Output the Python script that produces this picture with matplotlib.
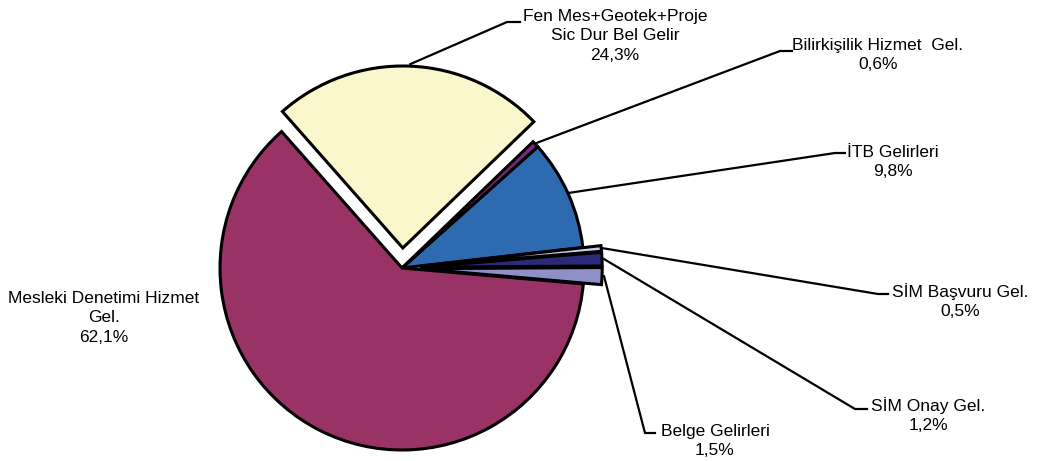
import numpy as np
import matplotlib
matplotlib.use('Agg')
import matplotlib.pyplot as plt

plt.rcParams['font.family'] = ['Liberation Sans', 'DejaVu Sans']

# veriler (saat yönünün tersine, İTB'den başlayarak)
labels = ['İTB Gelirleri', 'Bilirkişilik Hizmet  Gel.', 'Fen Mes+Geotek+Proje\nSic Dur Bel Gelir',
          'Mesleki Denetimi Hizmet\nGel.', 'Belge Gelirleri', 'SİM Onay Gel.', 'SİM Başvuru Gel.']
values = [9.8, 0.6, 24.3, 62.1, 1.5, 1.2, 0.5]
colors = ['#2e6ab0', '#7a2a78', '#faf7cc', '#993366', '#9090c8', '#2a2a78', '#ccccf0']
explode_frac = [0, 0, 0.11, 0, 0.1, 0.1, 0.1]

W, H = 1041, 461
cx, cy, R = 402, 268, 182  # piksel (üstten)
# etiket merkezleri ve kırılma noktaları (piksel, üstten)
text_pos = [(893, 162), (878, 55), (615, 36), (104, 318), (715, 441), (928, 415), (960, 301)]
elbow = [(835, 153), (780, 51), (507, 22), None, (645, 433), (855, 409), (878, 294)]
elbow_end = [(845, 153), (792, 51), (520, 22), None, (655, 433), (867, 409), (888, 294)]

fig = plt.figure(figsize=(W / 100, H / 100), dpi=100)
ax = fig.add_axes([0, 0, 1, 1])


def fy(y):
    return H - y


# pie içinde explode veri biriminde, yarıçapla ölçekle
wedges, _ = ax.pie(values, colors=colors, explode=[e * R for e in explode_frac], startangle=6.5,
                   counterclock=True, center=(cx, fy(cy)), radius=R,
                   wedgeprops=dict(edgecolor='black', linewidth=2.2))

for i, w in enumerate(wedges):
    lab = labels[i] + '\n' + f'{values[i]:.1f}'.replace('.', ',') + '%'
    tx, ty = text_pos[i]
    ax.text(tx, fy(ty), lab, ha='center', va='center', fontsize=12.5, linespacing=1.4)
    if elbow[i] is None:
        continue
    ang = np.deg2rad((w.theta1 + w.theta2) / 2)
    x0 = w.center[0] + (w.r + 2) * np.cos(ang)
    y0 = w.center[1] + (w.r + 2) * np.sin(ang)
    ex, ey = elbow[i]
    ex2, ey2 = elbow_end[i]
    ax.plot([x0, ex, ex2], [y0, fy(ey), fy(ey2)], color='black', linewidth=1.6)

ax.set_xlim(0, W)
ax.set_ylim(0, H)
ax.set_aspect('equal')
ax.axis('off')
fig.savefig('out.png', dpi=100)
